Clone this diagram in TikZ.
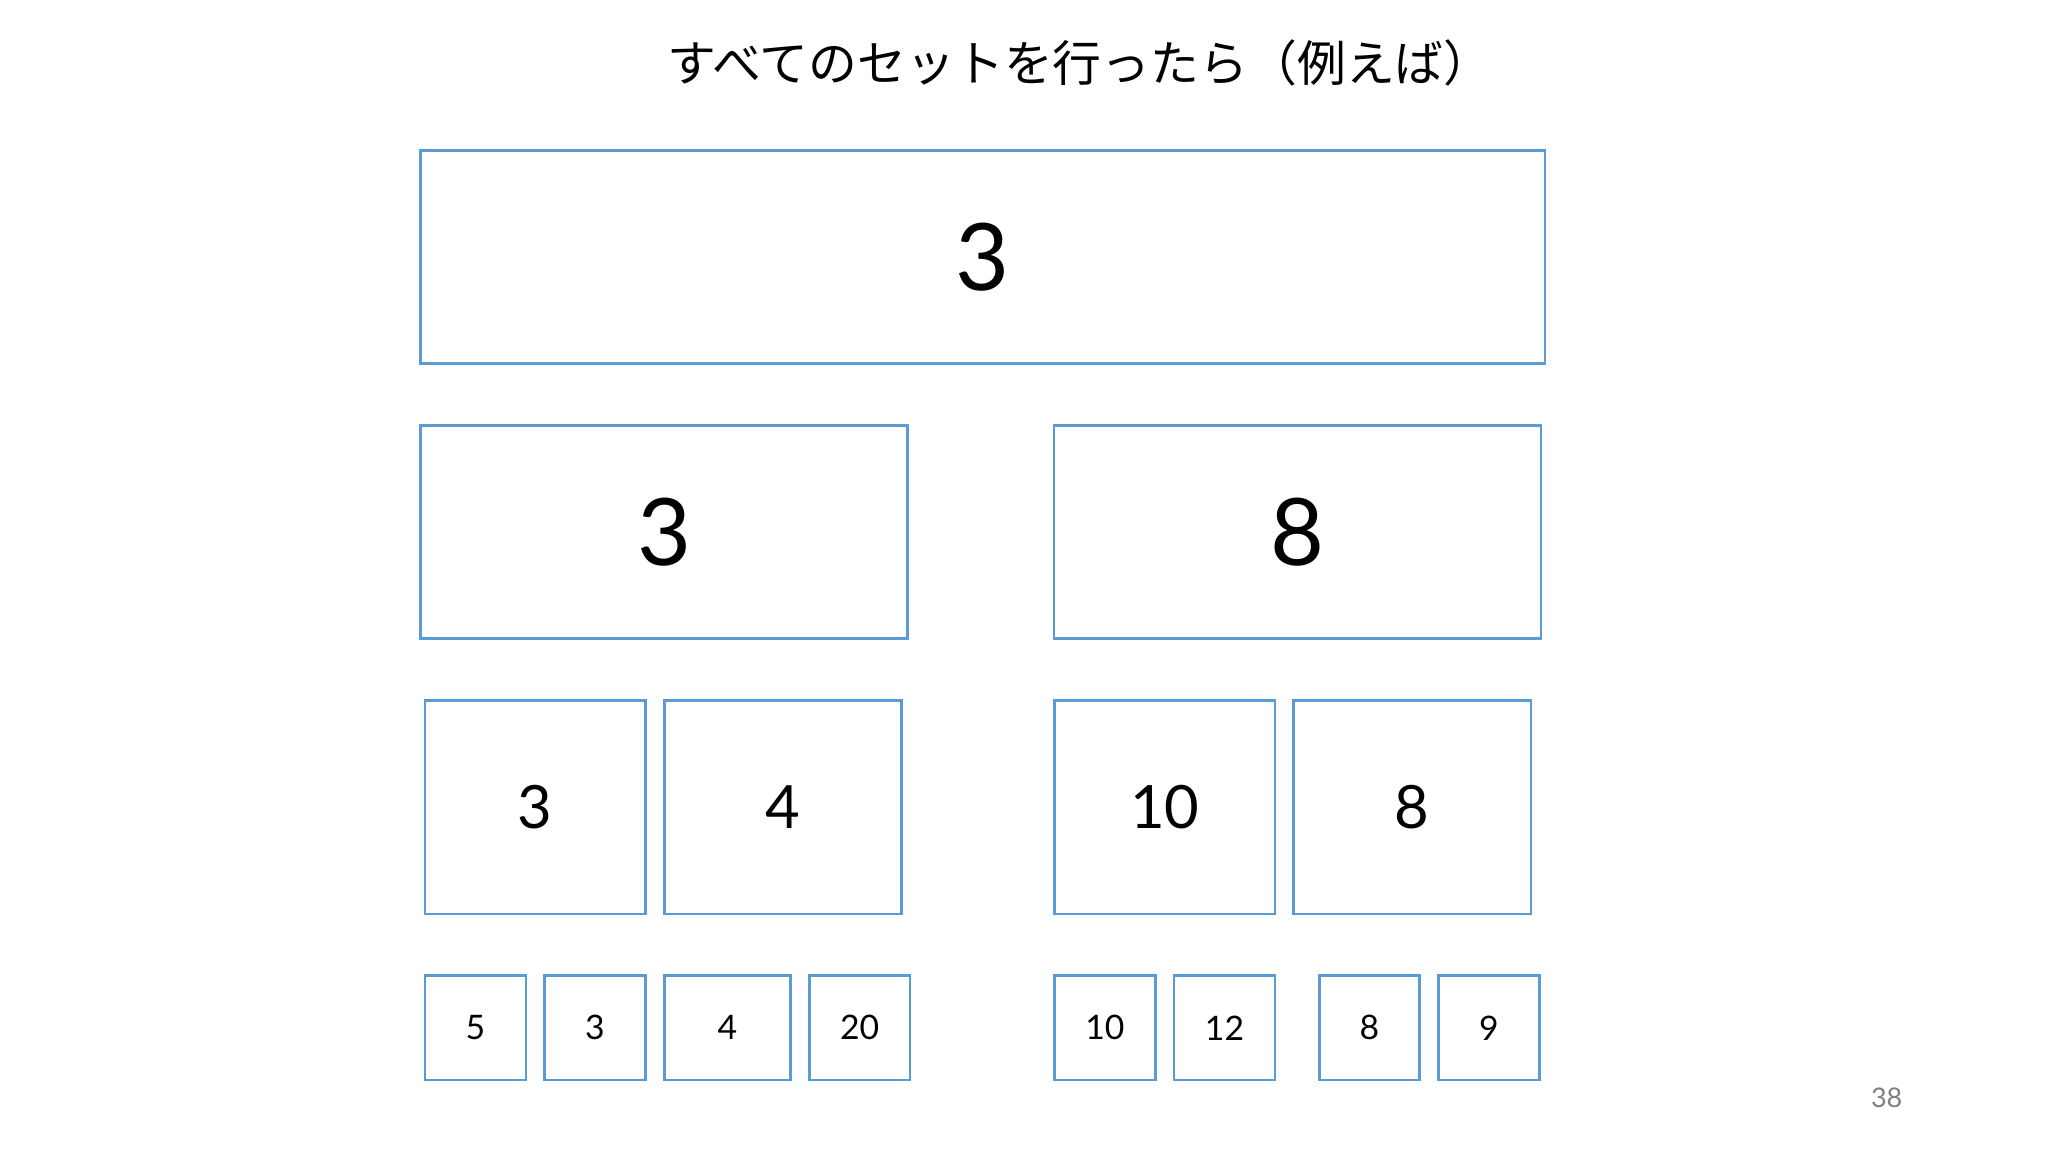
\documentclass[tikz,border=0pt]{standalone}
\usepackage{fontspec}
\setmainfont{Lato}
\newfontfamily\jpfont{Noto Sans CJK JP}
\usepackage{tikz}

\definecolor{boxblue}{HTML}{5B9BD5}

\begin{document}
\begin{tikzpicture}[
  box/.style={draw=boxblue, line width=0.8pt, rectangle, inner sep=0pt},
  big/.style={box, font=\fontsize{26.5}{30}\selectfont},
  mid/.style={box, font=\fontsize{17}{20}\selectfont},
  small/.style={box, font=\fontsize{9.6}{12}\selectfont, minimum height=1.043cm}
]
\useasboundingbox (0,0) rectangle (20.48,-11.52);

% title
\node (title) at (10.80,-0.625) {\jpfont\fontsize{13.9}{16}\selectfont すべてのセットを行ったら（例えば）};

% level 1
\node [big, minimum width=11.24cm, minimum height=2.13cm] (top) at (9.829,-2.567) {3};

% level 2
\node [big, minimum width=4.87cm, minimum height=2.13cm] (midl) at (6.642,-5.321) {3};
\node [big, minimum width=4.87cm, minimum height=2.13cm] (midr) at (12.975,-5.321) {8};

% level 3
\node [mid, minimum width=2.204cm, minimum height=2.133cm] (q1) at (5.352,-8.074) {3};
\node [mid, minimum width=2.375cm, minimum height=2.133cm] (q2) at (7.831,-8.074) {4};
\node [mid, minimum width=2.207cm, minimum height=2.133cm] (q3) at (11.647,-8.074) {10};
\node [mid, minimum width=2.374cm, minimum height=2.133cm] (q4) at (14.123,-8.074) {8};

% level 4
\node [small, minimum width=1.01cm] (s1) at (4.755,-10.279) {5};
\node [small, minimum width=1.008cm] (s2) at (5.950,-10.279) {3};
\node [small, minimum width=1.261cm] (s3) at (7.274,-10.279) {4};
\node [small, minimum width=1.007cm] (s4) at (8.597,-10.279) {20};
\node [small, minimum width=1.011cm] (s5) at (11.049,-10.279) {10};
\node [small, minimum width=1.01cm] (s6) at (12.245,-10.279) {12};
\node [small, minimum width=1.003cm] (s7) at (13.695,-10.279) {8};
\node [small, minimum width=1.007cm] (s8) at (14.890,-10.279) {9};

% page number
\node [text=gray, font=\fontsize{7.7}{9}\selectfont] (pagenum) at (18.867,-10.977) {38};
\end{tikzpicture}
\end{document}
